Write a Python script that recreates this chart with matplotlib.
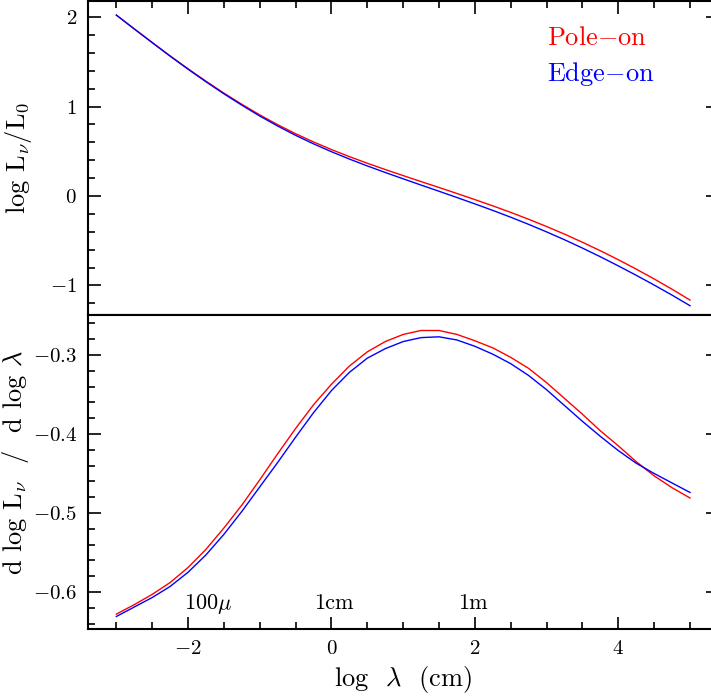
import numpy as np
import matplotlib
matplotlib.use('Agg')
import matplotlib.pyplot as plt
from matplotlib.ticker import MultipleLocator

plt.rcParams['font.family'] = 'serif'
plt.rcParams['font.serif'] = ['cmr10']
plt.rcParams['mathtext.fontset'] = 'cm'
plt.rcParams['axes.formatter.use_mathtext'] = True

# log wavelength grid (cm)
log_lam = [-3.0, -2.75, -2.5, -2.25, -2.0, -1.75, -1.5, -1.25, -1.0, -0.75, -0.5, -0.25,
           0.0, 0.25, 0.5, 0.75, 1.0, 1.25, 1.5, 1.75, 2.0, 2.25, 2.5, 2.75,
           3.0, 3.25, 3.5, 3.75, 4.0, 4.25, 4.5, 4.75, 5.0]

# log L_nu / L_0
lum_pole = [2.022, 1.868, 1.716, 1.566, 1.422, 1.283, 1.150, 1.025, 0.906, 0.797, 0.696, 0.604,
            0.519, 0.440, 0.366, 0.296, 0.228, 0.161, 0.095, 0.028, -0.040, -0.110, -0.183, -0.260,
            -0.341, -0.426, -0.517, -0.612, -0.712, -0.817, -0.927, -1.042, -1.163]
lum_edge = [2.022, 1.867, 1.714, 1.563, 1.417, 1.277, 1.142, 1.015, 0.894, 0.782, 0.678, 0.583,
            0.495, 0.413, 0.336, 0.263, 0.192, 0.122, 0.053, -0.017, -0.088, -0.161, -0.237, -0.317,
            -0.401, -0.489, -0.582, -0.679, -0.781, -0.886, -0.995, -1.108, -1.226]

# spectral slope d log L_nu / d log lambda
slope_pole = [-0.628, -0.616, -0.603, -0.588, -0.569, -0.546, -0.519, -0.490, -0.458, -0.425, -0.393, -0.363,
              -0.337, -0.314, -0.296, -0.283, -0.274, -0.269, -0.269, -0.274, -0.282, -0.291, -0.303, -0.317,
              -0.335, -0.355, -0.375, -0.396, -0.415, -0.435, -0.453, -0.468, -0.481]
slope_edge = [-0.631, -0.619, -0.607, -0.593, -0.575, -0.553, -0.527, -0.498, -0.467, -0.436, -0.404, -0.373,
              -0.345, -0.322, -0.304, -0.292, -0.283, -0.278, -0.277, -0.281, -0.289, -0.299, -0.311, -0.326,
              -0.344, -0.364, -0.384, -0.403, -0.421, -0.437, -0.450, -0.462, -0.474]

marks = ['100$\\mu$', '1cm', '1m']
mark_x = [-1.72, 0.03, 1.97]

fig = plt.figure(figsize=(7.11, 6.96), dpi=100)
ax1 = fig.add_axes([0.1238, 0.5474, 0.886, 0.4511])
ax2 = fig.add_axes([0.1238, 0.0963, 0.886, 0.4511])

ax1.plot(log_lam, lum_pole, color='red', lw=1.0)
ax1.plot(log_lam, lum_edge, color='blue', lw=1.0)
ax2.plot(log_lam, slope_pole, color='red', lw=1.0)
ax2.plot(log_lam, slope_edge, color='blue', lw=1.0)

for ax in (ax1, ax2):
    ax.set_xlim(-3.395, 5.39)
    ax.xaxis.set_major_locator(MultipleLocator(2))
    ax.xaxis.set_minor_locator(MultipleLocator(0.5))
    for s in ax.spines.values():
        s.set_linewidth(1.5)
    ax.tick_params(which='both', direction='in', width=1.2, labelsize=15, pad=8)
    ax.tick_params(which='major', length=9)
    ax.tick_params(which='minor', length=5)
    ax.tick_params(axis='y', which='major', left=True, right=True)
    ax.tick_params(axis='y', which='minor', left=True, right=False)

ax1.set_ylim(-1.33, 2.179)
ax1.yaxis.set_major_locator(MultipleLocator(1))
ax1.yaxis.set_minor_locator(MultipleLocator(0.2))
ax1.tick_params(axis='x', which='both', top=True, bottom=False, labelbottom=False)
ax1.set_ylabel('log L$_\\nu$/L$_0$', fontsize=19)
ax1.yaxis.set_label_coords(-0.085, 0.5)
ax1.text(3.01, 1.687, 'Pole$-$on', color='red', fontsize=19, ha='left', va='baseline')
ax1.text(3.01, 1.285, 'Edge$-$on', color='blue', fontsize=19, ha='left', va='baseline')

ax2.set_ylim(-0.6468, -0.2494)
ax2.yaxis.set_major_locator(MultipleLocator(0.1))
ax2.yaxis.set_minor_locator(MultipleLocator(0.02))
ax2.tick_params(axis='x', which='both', top=False, bottom=True)
ax2.set_ylabel('d log L$_\\nu$  /  d log $\\lambda$', fontsize=19)
ax2.yaxis.set_label_coords(-0.09, 0.53)
ax2.set_xlabel('log  $\\lambda$  (cm)', fontsize=19)
ax2.xaxis.set_label_coords(0.5, -0.112)
for m, mx in zip(marks, mark_x):
    ax2.text(mx, -0.6215, m, fontsize=16, ha='center', va='baseline')

fig.savefig('out.png', dpi=100)
